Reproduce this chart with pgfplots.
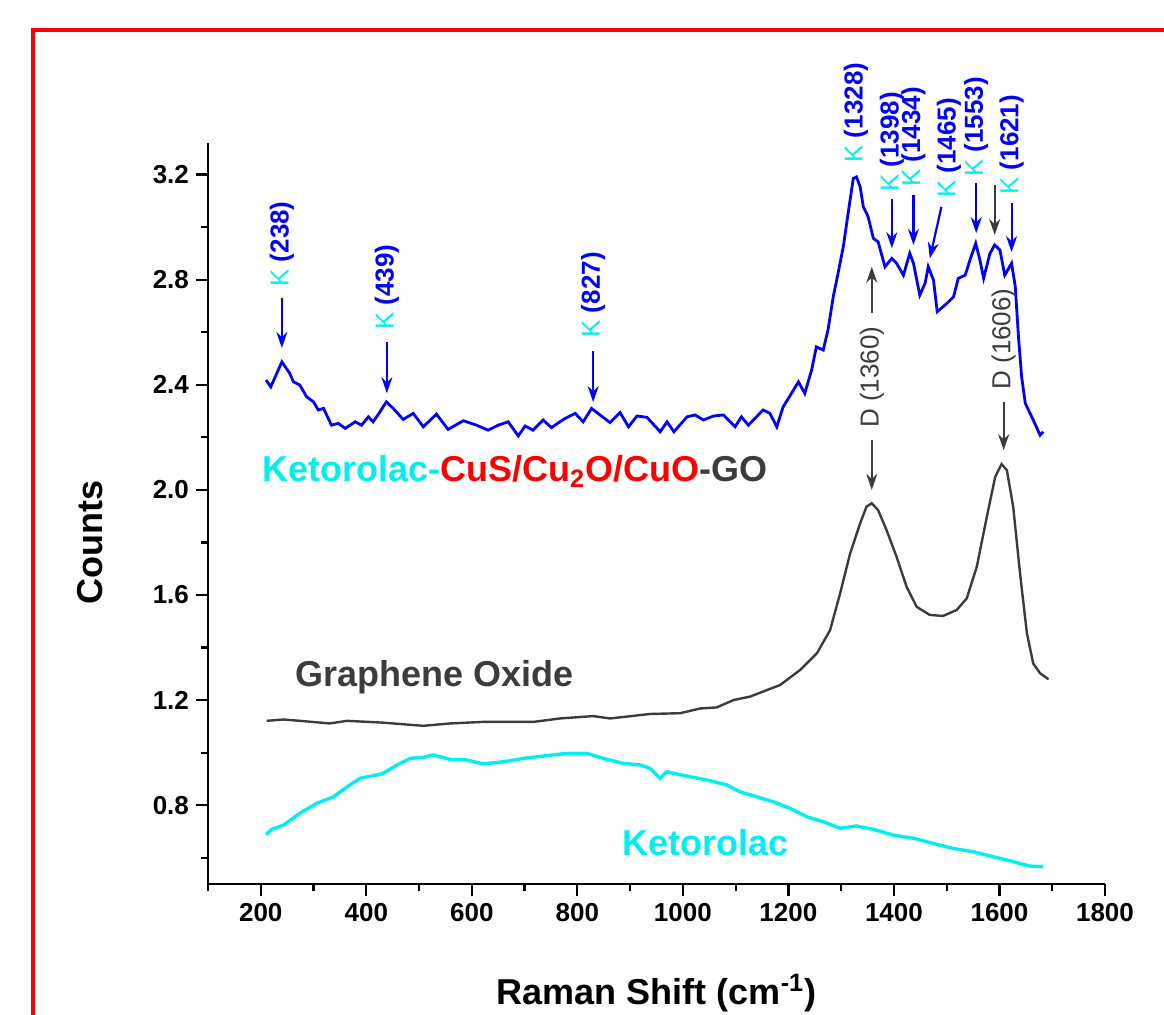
\documentclass[border=0pt]{standalone}
\usepackage{pgfplots}
\pgfplotsset{compat=1.18}
\usepackage{fontspec}
\setmainfont{Liberation Sans}
\usetikzlibrary{arrows.meta}
\definecolor{goGray}{RGB}{60,60,60}
\definecolor{kCyan}{RGB}{0,240,240}
\begin{document}
\begin{tikzpicture}
\useasboundingbox (-104pt,-65pt) rectangle (478pt,442pt);
\draw[red, line width=2pt] (-87.5pt,-90pt) -- (-87.5pt,427pt) -- (500pt,427pt);
\begin{axis}[
  scale only axis, width=448.5pt, height=370.5pt,
  xmin=100, xmax=1800, ymin=0.5, ymax=3.32,
  axis lines*=left, axis line style={line width=1.2pt},
  tick align=outside,
  major tick length=6pt, minor tick length=3.5pt,
  every tick/.style={black, line width=1.1pt},
  xtick={200,400,...,1800}, minor xtick={100,300,...,1700},
  ytick={0.8,1.2,1.6,2.0,2.4,2.8,3.2}, minor ytick={0.6,1.0,1.4,1.8,2.2,2.6,3.0},
  /pgf/number format/assume math mode=true,
  xticklabel style={font=\fontsize{13}{15}\selectfont\bfseries, /pgf/number format/1000 sep={}},
  yticklabel style={font=\fontsize{13}{15}\selectfont\bfseries, /pgf/number format/.cd, fixed, fixed zerofill, precision=1},
  xlabel={Raman Shift (cm\textsuperscript{-1})},
  ylabel={Counts},
  xlabel style={font=\fontsize{18}{20}\selectfont\bfseries, at={(axis description cs:0.5,-0.1620)}, anchor=base},
  ylabel style={font=\fontsize{18}{20}\selectfont\bfseries, at={(axis description cs:-0.1316,0.461)}, anchor=center},
  clip=false,
]
% Ketorolac-CuS/Cu2O/CuO-GO
\addplot[blue, line width=1.4pt] coordinates {
(210,2.418)(219,2.392)(240,2.487)(255,2.443)(262,2.411)(274,2.399)(287,2.354)(300,2.335)(309,2.304)(319,2.31)(334,2.246)(347,2.253)(360,2.234)(379,2.259)(391,2.246)(404,2.278)(413,2.259)(426,2.297)(438,2.335)(451,2.31)(470,2.268)(489,2.291)(508,2.24)(533,2.288)(555,2.23)(584,2.263)(609,2.246)(631,2.227)(650,2.246)(669,2.259)(688,2.205)(701,2.243)(716,2.227)(735,2.266)(751,2.237)(767,2.259)(777,2.272)(796,2.291)(811,2.259)(827,2.31)(843,2.285)(862,2.256)(881,2.294)(897,2.24)(913,2.281)(932,2.276)(957,2.221)(970,2.259)(983,2.221)(1008,2.278)(1023,2.285)(1039,2.266)(1058,2.281)(1077,2.285)(1099,2.24)(1111,2.278)(1124,2.246)(1152,2.304)(1165,2.291)(1178,2.24)(1190,2.316)(1200,2.348)(1219,2.411)(1231,2.367)(1244,2.456)(1253,2.544)(1266,2.532)(1275,2.608)(1285,2.735)(1294,2.823)(1304,2.925)(1314,3.064)(1323,3.185)(1329,3.191)(1336,3.153)(1342,3.077)(1351,3.04)(1361,2.957)(1370,2.944)(1383,2.849)(1396,2.881)(1405,2.862)(1418,2.817)(1430,2.9)(1437,2.862)(1449,2.741)(1459,2.786)(1465,2.849)(1475,2.798)(1482,2.678)(1500,2.709)(1513,2.735)(1522,2.805)(1535,2.817)(1544,2.874)(1555,2.938)(1563,2.874)(1570,2.805)(1582,2.9)(1591,2.932)(1601,2.912)(1610,2.817)(1623,2.862)(1630,2.773)(1636,2.583)(1642,2.43)(1649,2.329)(1658,2.291)(1667,2.253)(1677,2.208)(1683,2.221)
};
% Graphene oxide
\addplot[goGray, line width=1.2pt] coordinates {
(211,1.121)(243,1.126)(274,1.121)(331,1.111)(363,1.121)(432,1.114)(508,1.102)(559,1.111)(622,1.117)(717,1.117)(767,1.13)(830,1.139)(862,1.13)(938,1.147)(995,1.15)(1033,1.168)(1064,1.172)(1096,1.2)(1127,1.213)(1184,1.257)(1222,1.314)(1254,1.378)(1279,1.466)(1298,1.606)(1317,1.758)(1336,1.873)(1348,1.936)(1358,1.949)(1370,1.923)(1386,1.847)(1405,1.745)(1424,1.631)(1443,1.555)(1468,1.524)(1493,1.52)(1519,1.543)(1538,1.587)(1557,1.707)(1576,1.897)(1592,2.05)(1604,2.098)(1614,2.075)(1626,1.936)(1639,1.682)(1652,1.454)(1664,1.339)(1677,1.302)(1693,1.279)
};
% Ketorolac
\addplot[kCyan, line width=1.7pt] coordinates {
(210,0.688)(221,0.708)(243,0.724)(274,0.769)(306,0.807)(338,0.832)(369,0.877)(388,0.902)(420,0.915)(432,0.921)(458,0.953)(483,0.978)(508,0.982)(527,0.991)(559,0.974)(590,0.972)(622,0.957)(660,0.965)(698,0.978)(736,0.987)(780,0.997)(818,0.997)(849,0.978)(887,0.959)(919,0.953)(938,0.94)(957,0.902)(969,0.927)(1014,0.908)(1045,0.896)(1083,0.877)(1108,0.851)(1140,0.832)(1171,0.813)(1203,0.788)(1235,0.756)(1266,0.737)(1298,0.712)(1329,0.721)(1361,0.708)(1399,0.686)(1437,0.674)(1475,0.654)(1513,0.635)(1550,0.623)(1588,0.604)(1626,0.585)(1658,0.568)(1683,0.566)
};
% series labels
\node[anchor=base west, inner sep=0, font=\fontsize{18}{20}\selectfont\bfseries] at (axis cs:202,2.03)
  {\textcolor{kCyan}{Ketorolac-}\textcolor{red}{CuS/Cu\textsubscript{2}O/CuO}\textcolor{goGray}{-GO}};
\node[anchor=base west, inner sep=0, font=\fontsize{18}{20}\selectfont\bfseries, goGray] at (axis cs:265,1.253) {Graphene Oxide};
\node[anchor=base west, inner sep=0, font=\fontsize{18}{20}\selectfont\bfseries, kCyan] at (axis cs:885,0.61) {Ketorolac};
% peak labels
\tikzset{klab/.style={rotate=90, anchor=west, inner sep=0, font=\fontsize{13}{15}\selectfont},
  karr/.style={blue, line width=1.1pt, -{Stealth[length=8pt,width=5.5pt]}},
  darr/.style={goGray, line width=1.1pt, -{Stealth[length=8pt,width=5.5pt]}}}
\newcommand{\K}[1]{\textcolor{kCyan}{K} \textcolor{blue}{\bfseries(#1)}}
\node[klab] at (axis cs:240,2.772) {\K{238}};
\draw[karr] (axis cs:240,2.730) -- (axis cs:240,2.540);
\node[klab] at (axis cs:439,2.608) {\K{439}};
\draw[karr] (axis cs:439,2.562) -- (axis cs:439,2.368);
\node[klab] at (axis cs:830,2.578) {\K{827}};
\draw[karr] (axis cs:830,2.528) -- (axis cs:830,2.334);
\node[klab] at (axis cs:1328,3.244) {\K{1328}};
\node[klab] at (axis cs:1396,3.133) {\K{1398}};
\draw[karr] (axis cs:1396,3.107) -- (axis cs:1396,2.920);
\node[klab] at (axis cs:1437,3.152) {\K{1434}};
\draw[karr] (axis cs:1437,3.122) -- (axis cs:1437,2.932);
\node[klab] at (axis cs:1504,3.110) {\K{1465}};
\draw[karr] (axis cs:1490,3.077) -- (axis cs:1468,2.881);
\node[klab] at (axis cs:1556,3.190) {\K{1553}};
\draw[karr] (axis cs:1556,3.167) -- (axis cs:1556,2.977);
\node[klab] at (axis cs:1623,3.122) {\K{1621}};
\draw[karr] (axis cs:1623,3.091) -- (axis cs:1623,2.905);
\draw[darr] (axis cs:1591,3.160) -- (axis cs:1591,2.970);
% D labels
\node[klab, goGray] at (axis cs:1358,2.235) {D (1360)};
\draw[darr] (axis cs:1358,2.673) -- (axis cs:1358,2.849);
\draw[darr] (axis cs:1358,2.189) -- (axis cs:1358,2.000);
\node[klab, goGray] at (axis cs:1608,2.380) {D (1606)};
\draw[darr] (axis cs:1608,2.335) -- (axis cs:1608,2.151);
\end{axis}
\end{tikzpicture}
\end{document}
